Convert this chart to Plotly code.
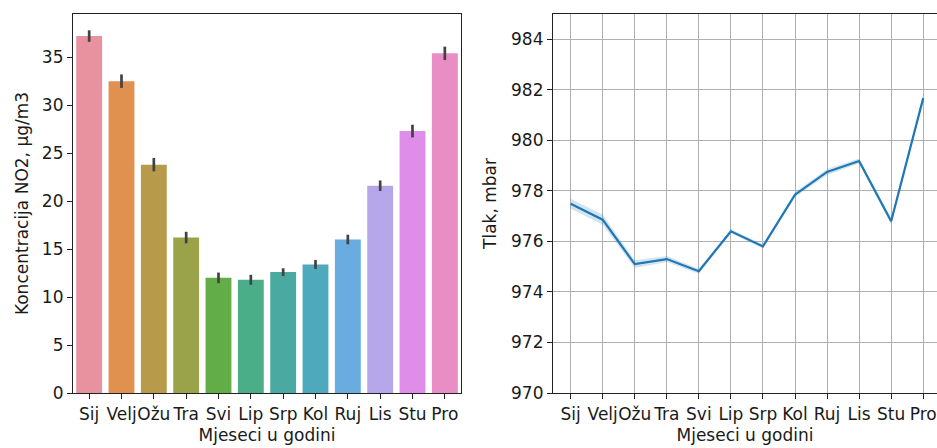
import plotly.graph_objects as go

months = ["Sij", "Velj", "Ožu", "Tra", "Svi", "Lip", "Srp", "Kol", "Ruj", "Lis", "Stu", "Pro"]
no2_mean = [37.2, 32.5, 23.8, 16.2, 12.0, 11.8, 12.6, 13.4, 16.0, 21.6, 27.3, 35.4]
no2_err = [0.6, 0.7, 0.7, 0.6, 0.55, 0.52, 0.4, 0.47, 0.5, 0.55, 0.66, 0.7]
bar_colors = ["#e9929f", "#e0914f", "#b79b4a", "#9aa24a", "#62ad48", "#4aae88",
              "#4aaaa1", "#4ea9bc", "#6aace0", "#b5a7e9", "#de8ee8", "#e88ec5"]
pressure_mean = [977.49, 976.86, 975.10, 975.30, 974.82, 976.40, 975.80, 977.85, 978.75, 979.18, 976.80, 981.67]
pressure_ci = [0.2, 0.2, 0.15, 0.12, 0.1, 0.08, 0.08, 0.1, 0.12, 0.1, 0.12, 0.12]
no2_ticks = [0, 5, 10, 15, 20, 25, 30, 35]
p_ticks = [970, 972, 974, 976, 978, 980, 982, 984]

W, H = 937, 448
FONT = dict(family="DejaVu Sans", size=17, color="#1a1a1a")
xs = list(range(len(months)))

fig = go.Figure()
fig.add_trace(go.Bar(
    x=xs, y=no2_mean, width=0.8,
    marker=dict(color=bar_colors, line=dict(width=0)),
    error_y=dict(type="data", array=no2_err, color="#424242", thickness=2.7, width=0),
    xaxis="x", yaxis="y", showlegend=False,
))

lower = [m - c for m, c in zip(pressure_mean, pressure_ci)]
upper = [m + c for m, c in zip(pressure_mean, pressure_ci)]
fig.add_trace(go.Scatter(x=xs, y=lower, mode="lines", line=dict(width=0),
                         xaxis="x2", yaxis="y2", showlegend=False, hoverinfo="skip"))
fig.add_trace(go.Scatter(x=xs, y=upper, mode="lines", line=dict(width=0),
                         fill="tonexty", fillcolor="rgba(31,119,180,0.2)",
                         xaxis="x2", yaxis="y2", showlegend=False, hoverinfo="skip"))
fig.add_trace(go.Scatter(x=xs, y=pressure_mean, mode="lines",
                         line=dict(color="#1f77b4", width=2.2),
                         xaxis="x2", yaxis="y2", showlegend=False))

ydom = [1 - 393 / H, 1 - 14 / H]
common_x = dict(tickmode="array", tickvals=xs, ticktext=months, ticks="outside",
                ticklen=5, tickwidth=1.2, tickcolor="#222", showline=True,
                linecolor="#222", linewidth=1.2, tickfont=FONT, automargin=False,
                tickangle=0,
                title=dict(text="Mjeseci u godini", font=FONT, standoff=6),
                zeroline=False)
common_y = dict(ticks="outside", ticklen=5, tickwidth=1.2, tickcolor="#222",
                showline=True, linecolor="#222", linewidth=1.2, tickfont=FONT,
                zeroline=False, automargin=False)

fig.update_layout(
    width=W, height=H, margin=dict(l=0, r=0, t=0, b=0),
    paper_bgcolor="white", plot_bgcolor="white",
    font=FONT,
    xaxis=dict(domain=[73 / W, 461 / W], range=[-0.5, 11.5], mirror=True,
               showgrid=False, anchor="y", **common_x),
    yaxis=dict(domain=ydom, range=[0, 39.5], tickvals=no2_ticks, mirror=True,
               showgrid=False, anchor="x",
               title=dict(text="Koncentracija NO2, µg/m3", font=FONT, standoff=8),
               **common_y),
    xaxis2=dict(domain=[553 / W, 1.0], range=[-0.55, 11.43], mirror=True,
                showgrid=True, gridcolor="#b0b0b0", gridwidth=1.3, anchor="y2",
                **common_x),
    yaxis2=dict(domain=ydom, range=[970, 985], tickvals=p_ticks, mirror=False,
                showgrid=True, gridcolor="#b0b0b0", gridwidth=1.3, anchor="x2",
                title=dict(text="Tlak, mbar", font=FONT, standoff=10),
                **common_y),
)

fig.write_html("out.html", config={"displayModeBar": False},
               post_script="document.body.style.margin='0';document.body.style.overflow='hidden';")
